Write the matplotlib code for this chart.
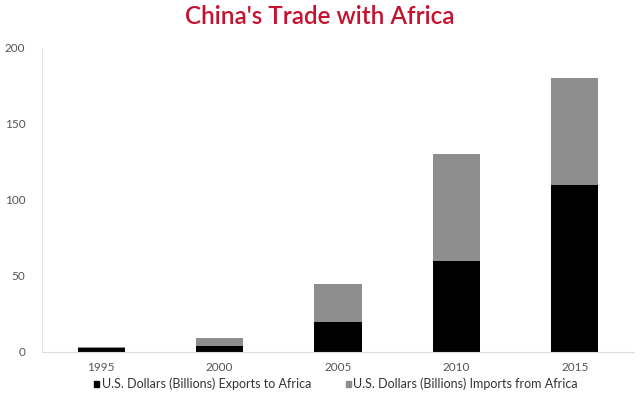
import matplotlib
matplotlib.use("Agg")
import matplotlib.pyplot as plt
import numpy as np
from matplotlib.patches import Patch

years = ["1995", "2000", "2005", "2010", "2015"]
exports = [2.5, 4, 20, 60, 110]
imports = [0.5, 5.5, 25, 70, 70]
yticks = [0, 50, 100, 150, 200]

plt.rcParams['font.family'] = ['Lato', 'DejaVu Sans']

fig = plt.figure(figsize=(6.4, 3.96), dpi=100)
ax = fig.add_axes([42/640, 1-352/396, 592/640, 304/396])

x = np.arange(len(years))
ax.bar(x, exports, width=0.4, color="black", label="U.S. Dollars (Billions) Exports to Africa")
ax.bar(x, imports, bottom=exports, width=0.4, color="#8e8e8e", label="U.S. Dollars (Billions) Imports from Africa")

ax.set_xlim(-0.5, 4.5)
ax.set_ylim(0, 200)
ax.set_yticks(yticks)
ax.set_yticklabels([str(v) for v in yticks])
ax.set_xticks(x)
ax.set_xticklabels(years)
ax.tick_params(axis='both', length=0, labelsize=8.5, colors="#555555")
ax.tick_params(axis='x', pad=7)
ax.tick_params(axis='y', pad=12)
for s in ["top", "right"]:
    ax.spines[s].set_visible(False)
ax.spines["left"].set_color("#e6e6e6")
ax.spines["bottom"].set_color("#dddddd")

fig.text(0.5, 1-17/396, "China's Trade with Africa", ha="center", va="center",
         fontsize=17.5, color="#c4122f", fontweight="semibold")

handles = [Patch(color="black"), Patch(color="#8e8e8e")]
fig.legend(handles, ["U.S. Dollars (Billions) Exports to Africa",
                     "U.S. Dollars (Billions) Imports from Africa"],
           loc="center", bbox_to_anchor=(336/640, 1-384/396), ncol=2, frameon=False,
           fontsize=9, handlelength=0.4, handleheight=0.4, handletextpad=0.2,
           columnspacing=2.8, labelcolor="#333333")

fig.savefig("out.png", dpi=100, facecolor="white")
